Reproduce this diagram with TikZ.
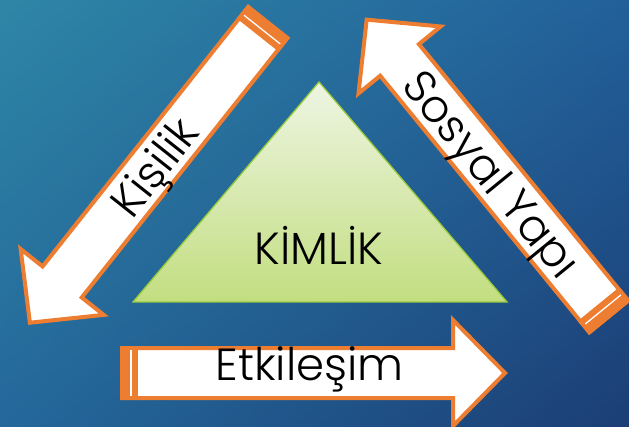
\documentclass[tikz,border=0pt]{standalone}
\usepackage{fontspec}
\setmainfont{Poppins}[UprightFont={* Light}]
\usepackage{tikz}
\usetikzlibrary{calc, shadings}
\usepackage{xcolor}
\definecolor{arrow_orange}{HTML}{ED7D31}
\definecolor{bg_tl}{HTML}{2E86A6}
\definecolor{bg_tr}{HTML}{22609A}
\definecolor{bg_bl}{HTML}{24689B}
\definecolor{bg_br}{HTML}{1B3E75}
\definecolor{tri_light}{HTML}{EEF5E3}
\definecolor{tri_dark}{HTML}{C2DE80}
\definecolor{tri_edge}{HTML}{9CCB3C}

\tikzset{
	stripedarrow/.pic={
		\draw[arrow_orange, line width=4pt, fill=white, line join=miter] (2, -25) -- (333, -25) -- (333, -53) -- (385, 0) -- (333, 53) -- (333, 25) -- (2, 25) -- cycle;
		\fill[arrow_orange] (0, -27) rectangle (18, 27);
		\draw[white, line width=1.3pt] (11, -23) -- (11, 23);
	},
	label_text/.style={font=\fontsize{45}{50}\selectfont, text=black, inner sep=0pt}
}

\begin{document}
\begin{tikzpicture}[x=1pt, y=1pt]
	\clip (0, 0) rectangle (629, 426);
	\shade[upper left=bg_tl, upper right=bg_tr, lower left=bg_bl, lower right=bg_br] (0, 0) rectangle (629, 426);
	% triangle
	\coordinate (T) at (319, 344);
	\coordinate (L) at (133, 124);
	\coordinate (R) at (507, 124);
	\shade[top color=tri_light, bottom color=tri_dark, draw=tri_edge, line width=1.3pt] (T) -- (L) -- (R) -- cycle;
	\node[label_text, anchor=base] (kimlik) at (319, 161) {KİMLİK};
	% arrows
	\coordinate (E) at (120, 53);
	\coordinate (K) at (269, 405);
	\coordinate (S) at (610, 108);
	\pic at (E) {stripedarrow};
	\pic[rotate=231.6] at (K) {stripedarrow};
	\pic[rotate=129.2] at (S) {stripedarrow};
	\node[label_text, anchor=base] (etkilesim) at (309.5, 46) {Etkileşim};
	\node[label_text, rotate=51.6] (kisilik) at (158, 256) {Kişilik};
	\node[label_text, rotate=-50.8] (sosyal) at (488, 249) {Sosyal Yapı};
\end{tikzpicture}
\end{document}
